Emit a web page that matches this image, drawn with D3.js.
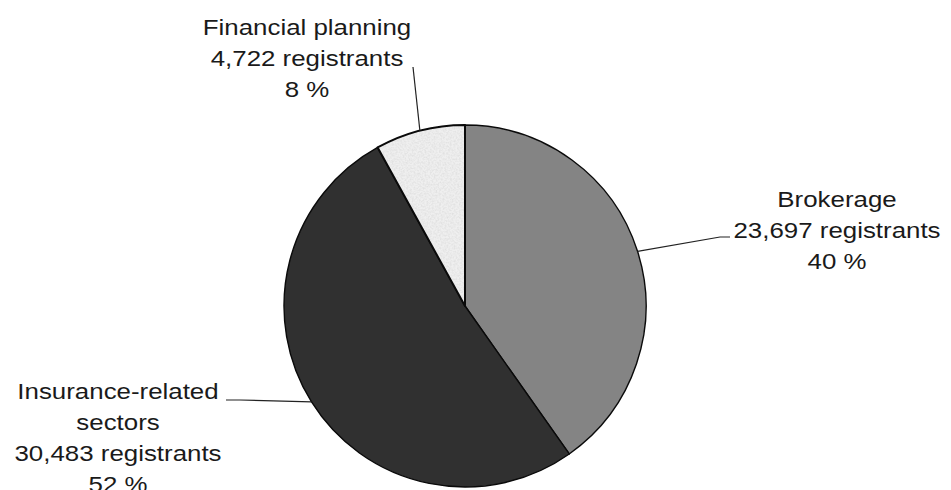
<!DOCTYPE html>
<html>
<head>
<meta charset="utf-8">
<script src="https://cdn.jsdelivr.net/npm/d3@7"></script>
<style>
  body { margin: 0; background: #fff; }
  svg { display: block; }
  text { font-family: "Liberation Sans", Arial, sans-serif; fill: #1a1a1a; }
</style>
</head>
<body>
<svg id="chart" width="951" height="490"></svg>
<script>
// data
var sectors = ["Brokerage", "Insurance-related sectors", "Financial planning"];
var registrants = [23697, 30483, 4722];
var percents = [40, 52, 8];
var fills = ["#848484", "#303030", "url(#speckle)"];
// label lines (name may wrap)
var nameLines = [["Brokerage"], ["Insurance-related", "sectors"], ["Financial planning"]];

var width = 951, height = 490;
var cx = 465, cy = 306, radius = 181;

var svg = d3.select("#chart");

// speckled light texture for the small slice
var defs = svg.append("defs");
var filt = defs.append("filter").attr("id", "noise").attr("x", 0).attr("y", 0).attr("width", 1).attr("height", 1);
filt.append("feTurbulence").attr("type", "fractalNoise").attr("baseFrequency", 0.55).attr("numOctaves", 2).attr("seed", 3).attr("result", "t");
filt.append("feColorMatrix").attr("in", "t").attr("type", "matrix")
  .attr("values", "0 0 0 0 0.72  0 0 0 0 0.72  0 0 0 0 0.72  0 0 0 -1.6 1.05");
var pat = defs.append("pattern").attr("id", "speckle").attr("patternUnits", "userSpaceOnUse")
  .attr("width", 120).attr("height", 120);
pat.append("rect").attr("width", 120).attr("height", 120).attr("fill", "#efefef");
pat.append("rect").attr("width", 120).attr("height", 120).attr("fill", "#fff").attr("filter", "url(#noise)");

var pie = d3.pie().sort(null).value(function(d) { return d; });
var arcs = pie(registrants);
var arc = d3.arc().innerRadius(0).outerRadius(radius);

var g = svg.append("g").attr("transform", "translate(" + cx + "," + cy + ")");

g.selectAll("path.slice")
  .data(arcs)
  .enter().append("path")
  .attr("class", "slice")
  .attr("d", arc)
  .attr("fill", function(d, i) { return fills[i]; })
  .attr("stroke", "#0a0a0a")
  .attr("stroke-width", function(d, i) { return i == 2 ? 2 : 1.4; })
  .attr("stroke-linejoin", "round");

// label anchors (centre x, first baseline) and leader line ends
var labelPos = [[837, 207], [118, 399], [307, 35]];
var leaderEnd = [[[730, 237], [720, 237]], [[226, 400], [240, 400]], [[413, 67]]];
var lineGap = 31;
var fmt = d3.format(",");

arcs.forEach(function(d, i) {
  var mid = (d.startAngle + d.endAngle) / 2;
  var px = cx + Math.sin(mid) * radius;
  var py = cy - Math.cos(mid) * radius;
  var pts = leaderEnd[i].concat([[px, py]]);
  svg.append("path")
    .attr("d", d3.line()(pts))
    .attr("fill", "none")
    .attr("stroke", "#222")
    .attr("stroke-width", 1.2);

  var lines = nameLines[i].concat([fmt(registrants[i]) + " registrants", percents[i] + " %"]);
  var lg = svg.append("g")
    .attr("transform", "translate(" + labelPos[i][0] + "," + labelPos[i][1] + ") scale(1.15,1)");
  lg.selectAll("text")
    .data(lines)
    .enter().append("text")
    .attr("x", 0)
    .attr("y", function(t, k) { return k * lineGap; })
    .attr("text-anchor", "middle")
    .attr("font-size", 22.5)
    .text(function(t) { return t; });
});
</script>
</body>
</html>
